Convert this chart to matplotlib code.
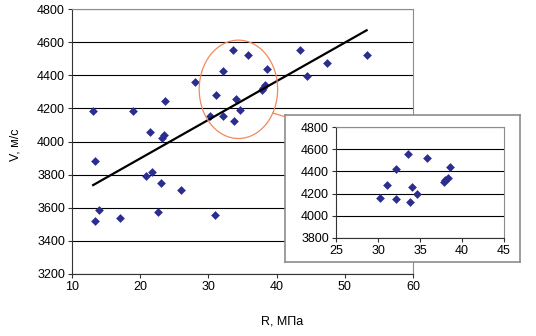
import numpy as np
import matplotlib
matplotlib.use("Agg")
import matplotlib.pyplot as plt
from matplotlib.patches import Ellipse
from matplotlib.lines import Line2D

plt.rcParams['font.family'] = ['Liberation Sans', 'DejaVu Sans']

# strength R (MPa) and velocity V (m/s)
R = [13.1, 13.4, 18.9, 21.5, 23.2, 23.5, 23.6, 28.0, 30.2, 31.1, 32.2, 32.1,
     33.6, 33.8, 34.1, 34.7, 35.8, 37.8, 38.0, 38.3, 38.6, 43.4, 44.4, 47.4,
     53.2, 20.9, 21.7, 23.1, 26.0, 14.0, 13.3, 17.1, 22.6, 31.0]
V = [4184, 3883, 4184, 4055, 4020, 4038, 4244, 4359, 4156, 4281, 4426, 4154,
     4553, 4123, 4259, 4192, 4525, 4308, 4326, 4341, 4437, 4553, 4398, 4471,
     4521, 3790, 3818, 3747, 3709, 3588, 3519, 3538, 3572, 3557]
R = np.array(R)
V = np.array(V)

main_xticks = [10, 20, 30, 40, 50, 60]
main_yticks = list(range(3200, 4801, 200))
ins_xticks = [25, 30, 35, 40, 45]
ins_yticks = list(range(3800, 4801, 200))

W, H = 536, 336
navy = '#2b2e8f'
frame = '#8c8c8c'

fig = plt.figure(figsize=(W / 100, H / 100), dpi=100)

def box(x0, y0, x1, y1):
    # pixel box (top-left origin) -> figure fraction rect
    return [x0 / W, 1 - y1 / H, (x1 - x0) / W, (y1 - y0) / H]

ax = fig.add_axes(box(72, 9, 413, 274))
ax.scatter(R, V, marker='D', s=20, color=navy, zorder=3, linewidths=0)
k, b = np.polyfit(R, V, 1)
xs = np.array([R.min(), R.max()])
ax.plot(xs, k * xs + b, color='black', lw=1.6, zorder=4)
ax.set_xlim(10, 60)
ax.set_ylim(3200, 4800)
ax.set_xticks(main_xticks)
ax.set_yticks(main_yticks)
ax.yaxis.grid(True, color='black', lw=0.8)
ax.set_axisbelow(True)
for s in ['top', 'right']:
    ax.spines[s].set_color(frame)
for s in ['left', 'bottom']:
    ax.spines[s].set_color('#333333')
ax.tick_params(labelsize=9, length=3, color='#333333', pad=2)

ell = Ellipse((34.4, 4315), 11.5, 594, fill=False, edgecolor='#f08a5d', lw=0.9, zorder=5)
ax.add_patch(ell)

fig.text(15 / W, 1 - 145 / H, 'V, м/с', rotation=90, ha='center', va='center', fontsize=9)
fig.text(282 / W, 1 - 321 / H, 'R, МПа', ha='center', va='center', fontsize=9)

# callout connector
fig.add_artist(Line2D([272.7 / W, 285 / W], [1 - 113 / H, 1 - 116.7 / H],
                      color='#f08a5d', lw=0.9))

# inset frame
bg = fig.add_axes(box(285, 115, 520, 262))
bg.set_xticks([])
bg.set_yticks([])
for s in bg.spines.values():
    s.set_color(frame)
    s.set_linewidth(1.2)

mask = (R >= 30) & (R <= 40)
ins = fig.add_axes(box(336, 127, 504, 238))
ins.scatter(R[mask], V[mask], marker='D', s=20, color=navy, zorder=3, linewidths=0)
ins.set_xlim(25, 45)
ins.set_ylim(3800, 4800)
ins.set_xticks(ins_xticks)
ins.set_yticks(ins_yticks)
ins.yaxis.grid(True, color='black', lw=0.8)
ins.set_axisbelow(True)
for s in ['top', 'right']:
    ins.spines[s].set_color(frame)
for s in ['left', 'bottom']:
    ins.spines[s].set_color('#333333')
ins.tick_params(labelsize=9, length=3, color='#333333', pad=2)

fig.savefig('out.png', dpi=100)
